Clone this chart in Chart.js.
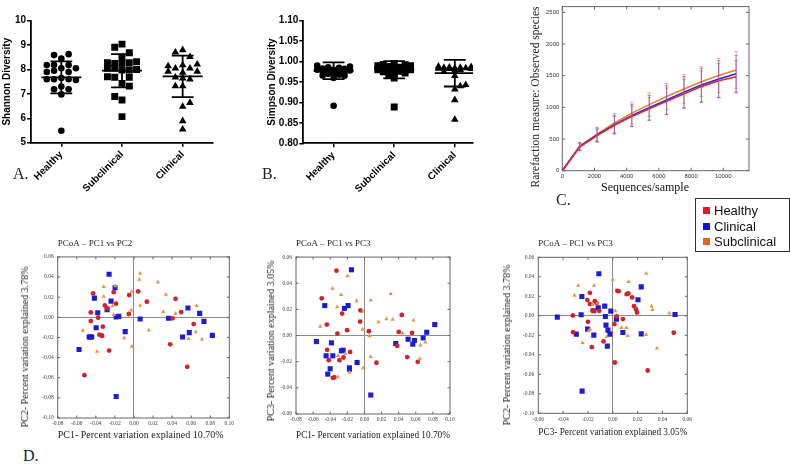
<!DOCTYPE html>
<html><head><meta charset="utf-8">
<script src="https://cdn.jsdelivr.net/npm/chart.js@4.4.1/dist/chart.umd.min.js"></script>
<style>
body{margin:0;width:790px;height:468px;background:#fff;position:relative;overflow:hidden}
canvas{position:absolute}
.lbl{position:absolute;font-family:"Liberation Serif","Times New Roman",serif;font-size:16px;color:#222;line-height:16px}
.vt{position:absolute;font-family:"Liberation Serif","Times New Roman",serif;color:#222;white-space:nowrap;transform:translate(-50%,-50%) rotate(-90deg);line-height:1}
.ht{position:absolute;font-family:"Liberation Serif","Times New Roman",serif;color:#111;white-space:nowrap;transform:translate(-50%,-50%);line-height:1}
#legend{position:absolute;left:695px;top:198px;width:95px;height:54px;border:1px solid #333;box-sizing:border-box;font-family:"Liberation Sans",Arial,sans-serif;font-size:13px;color:#111;background:#fff}
#legend .it{position:absolute;left:7px;height:15px;line-height:15px}
#legend .sw{display:inline-block;width:7px;height:7px;margin-right:4px;vertical-align:1px}
</style></head>
<body>
<canvas id="cA" width="230" height="200" style="left:0;top:0"></canvas>
<canvas id="cB" width="230" height="200" style="left:260px;top:0"></canvas>
<canvas id="cC" width="240" height="195" style="left:520px;top:0"></canvas>
<canvas id="cD1" width="240" height="204.4" style="left:0;top:237.6px"></canvas>
<canvas id="cD2" width="205" height="204.4" style="left:255px;top:237.6px"></canvas>
<canvas id="cD3" width="210" height="204" style="left:495px;top:238px"></canvas>
<div class="lbl" style="left:13px;top:166px">A.</div>
<div class="lbl" style="left:262px;top:166px">B.</div>
<div class="lbl" style="left:556px;top:192px">C.</div>
<div class="lbl" style="left:23px;top:448px">D.</div>
<div class="vt" style="left:536px;top:97px;font-size:11.5px">Rarefaction measure: Observed species</div>
<div class="ht" style="left:645px;top:187px;font-size:12px">Sequences/sample</div>
<div class="vt" style="left:25px;top:347px;font-size:10px">PC2- Percent variation explained 3.78%</div>
<div class="vt" style="left:271px;top:341px;font-size:10px">PC3- Percent variation explained 3.05%</div>
<div class="vt" style="left:507px;top:345px;font-size:10px">PC2- Percent variation explained 3.78%</div>
<div id="legend"></div>
<script>
// ---------- DATA ----------
const groups = ['Healthy', 'Subclinical', 'Clinical'];
const legendNames = ['Healthy', 'Clinical', 'Subclinical'];

// A. Shannon diversity (values + swarm column per point)
const shHealthy    = [8.59,8.63,8.45,8.18,8.18,8.18,7.90,7.95,8.05,7.90,8.05,7.60,7.60,7.65,7.60,7.57,7.19,7.30,7.19,6.98,5.49];
const shHealthyCol = [-1,1,0,-2,-1,1,-2,-1,0,1,2,-2,-1,0,1,2,-1,0,1,0,0];
const shSub        = [8.91,9.04,8.69,8.50,8.28,8.25,8.25,8.28,8.32,8.05,8.05,7.98,7.98,8.00,7.70,7.68,7.68,7.43,7.32,6.89,6.75,6.07];
const shSubCol     = [-1,0,1,0,-2,-1,0,1,2,-2,-1,0,1,2,-2,-1,1,0,1,-1,0,0];
const shClin       = [8.70,8.80,8.52,8.14,8.05,8.18,8.05,8.21,7.92,7.92,7.87,7.68,7.60,7.64,7.32,7.32,6.64,6.48,5.89,5.55];
const shClinCol    = [-1,0,1,-2,-1,0,1,2,2,-2,0,-1,1,0,-1,0,1,0,0,0];
const shMean = [7.68, 7.95, 7.72];
const shSD   = [0.655, 0.68, 0.85];
const shTicks = [5, 6, 7, 8, 9, 10];

// B. Simpson diversity
const spHealthy    = [0.990,0.988,0.986,0.985,0.983,0.982,0.980,0.980,0.978,0.977,0.975,0.975,0.973,0.972,0.970,0.968,0.966,0.965,0.960,0.892];
const spHealthyCol = [-3,3,-1,1,-2,2,0,-3,3,-1,1,-2,2,0,-1,1,-2,2,0,0];
const spSub        = [0.995,0.993,0.992,0.990,0.990,0.988,0.986,0.985,0.984,0.982,0.980,0.980,0.978,0.976,0.975,0.972,0.970,0.968,0.960,0.889];
const spSubCol     = [0,-2,2,-3,3,-1,1,-2,2,0,-3,3,-1,1,-2,2,0,-1,0,0];
const spClin       = [0.988,0.987,0.986,0.985,0.985,0.984,0.984,0.983,0.982,0.982,0.980,0.978,0.975,0.965,0.943,0.940,0.932,0.906,0.858];
const spClinCol    = [-3,3,-1,1,-2,2,0,-3,3,-1,1,0,-2,0,2,1,0,0,0];
const spMean = [0.9775, 0.980, 0.9715];
const spSD   = [0.0205, 0.021, 0.0325];
const spTicks = [0.80, 0.85, 0.90, 0.95, 1.00, 1.05, 1.10];

// C. Rarefaction
const depths      = [0,1080,2160,3240,4320,5400,6480,7560,8640,9720,10800];
const rareHealthy = [0,372,553,718,857,976,1095,1214,1327,1420,1482];
const rareClin    = [0,380,563,728,873,992,1116,1240,1353,1446,1529];
const rareSub     = [0,387,578,754,909,1043,1172,1291,1405,1503,1591];
const errHealthy  = [0,60,100,135,160,180,210,230,250,270,255];
const errClin     = [0,60,110,145,175,195,225,245,265,290,290];
const errSub      = [0,55,110,145,175,185,205,225,235,270,290];
const depthTicks  = [0,2000,4000,6000,8000,10000];
const speciesTicks= [0,500,1000,1500,2000,2500];

// D. PCoA coordinates
const pc12Healthy = [[-0.0429,0.0237],[-0.0453,0.0049],[-0.0453,-0.0037],[-0.0376,-0.0004],[-0.0306,0.0118],[-0.0278,0.0089],[-0.0212,0.025],[-0.0187,0.0135],[-0.005,0.0221],[-0.0054,0.0033],[0.0044,0.0257],[0.0135,0.0155],[0.0436,0.0184],[0.0496,0.0052],[0.0405,-0.001],[0.0626,-0.0067],[0.038,-0.0268],[0.0559,-0.0492],[-0.0327,-0.0093],[-0.0362,-0.0172],[-0.0341,-0.0179],[-0.0334,-0.0185],[-0.0261,-0.033],[-0.052,-0.0575]];
const pc12Clin = [[-0.0261,0.0428],[-0.0198,0.0293],[-0.024,0.0161],[-0.0415,0.0191],[-0.038,0.0046],[-0.0282,0.0075],[-0.0187,0.0003],[-0.0159,0.0009],[-0.0397,-0.0103],[-0.047,-0.0195],[-0.0457,-0.0195],[-0.0443,-0.0195],[-0.0576,-0.032],[-0.0092,-0.0142],[0.0065,-0.0017],[0.0363,-0.001],[0.0566,0.0092],[0.0689,0.0039],[0.0734,-0.004],[0.058,-0.0152],[0.051,-0.0195],[0.0822,-0.0179],[-0.0187,-0.0786]];
const pc12Sub = [[0.0065,0.0435],[0.0055,0.0376],[-0.0317,0.0303],[-0.0317,0.0207],[-0.0195,0.031],[-0.0026,0.0257],[0.0251,0.0349],[0.0335,0.0227],[0.0065,0.0118],[0.0436,0.0039],[0.0307,0.0056],[-0.0029,0.0069],[-0.0212,0.0026],[-0.0226,0.0112],[-0.0537,-0.0132],[-0.0387,-0.034],[-0.0103,-0.0205],[-0.0022,-0.0291],[0.0156,-0.0129],[0.0657,0.0115],[0.0647,-0.0146],[0.0573,-0.0212],[0.0713,-0.0218]];

const pc13Healthy = [[-0.0327,0.0496],[-0.0499,0.0285],[-0.0261,0.0168],[-0.0047,0.0193],[-0.0051,0.0107],[-0.044,0.0084],[-0.0203,0.0041],[-0.0316,0.0015],[0.0051,0.0033],[0.0436,0.0158],[0.0401,0.0028],[0.0557,0.002],[0.0382,-0.0079],[-0.0436,-0.0109],[-0.0168,-0.0125],[-0.0417,-0.0188],[-0.0292,-0.0188],[-0.0245,-0.0168],[0.014,-0.0208],[0.0499,-0.0165],[0.0623,-0.0201],[-0.037,-0.0323],[-0.0351,-0.032]];
const pc13Clin = [[-0.0152,0.0503],[-0.0464,0.0229],[-0.0234,0.0208],[-0.0191,0.0229],[-0.0561,-0.0046],[-0.0386,-0.0056],[-0.0448,-0.0155],[-0.037,-0.0155],[-0.0269,-0.0117],[-0.0249,-0.0112],[-0.0401,-0.0254],[-0.0429,-0.0295],[-0.0175,-0.0247],[-0.0175,-0.0257],[-0.0086,-0.0206],[0.0366,-0.0061],[0.051,-0.0028],[0.0565,-0.0066],[0.0584,-0.0038],[0.0686,-0.0018],[0.0728,0.0025],[0.0822,0.0084],[0.0074,-0.0455]];
const pc13Sub = [[-0.0199,0.0455],[-0.0374,0.0359],[-0.0273,0.0313],[-0.0319,0.0219],[-0.0093,0.0264],[0.0074,0.027],[0.0308,0.032],[-0.0019,0.0183],[0.0164,0.0104],[0.0257,0.0127],[0.033,0.0122],[-0.0518,0.0069],[-0.0023,0.0046],[0.0058,-0.0003],[0.0444,0.0018],[0.0573,0.0117],[0.0654,-0.0074],[0.0713,-0.0051],[0.0647,-0.018],[0.0074,-0.0163],[-0.0016,-0.0249],[-0.0175,-0.0282],[-0.0312,-0.0315],[-0.0308,-0.0155],[-0.0222,-0.0137]];

const pc32Healthy = [[-0.0184,0.0236],[-0.0205,0.0161],[-0.0184,0.012],[-0.0145,0.015],[-0.013,0.013],[-0.0164,0.0055],[-0.0151,0.0051],[-0.0109,0.0051],[0.0036,0.0256],[0.0047,0.0253],[0.0112,0.0222],[0.0125,0.0229],[0.0156,0.0188],[0.0171,0.0099],[0.0187,0.0065],[0.0195,0.0034],[-0.0322,0.0003],[0.0031,-0.0007],[-0.02,-0.0062],[0.0081,-0.0034],[0.0013,-0.0085],[-0.032,-0.0168],[-0.0169,-0.0321],[-0.0075,-0.0263],[0.0016,-0.0479],[0.0281,-0.0561],[0.0491,-0.0174]];
const pc32Clin = [[-0.0112,0.0431],[0.0229,0.0297],[-0.0249,0.0198],[-0.0065,0.0099],[-0.0117,0.0082],[-0.0153,0.0051],[-0.0016,0.0048],[0.0203,0.0164],[-0.0447,-0.0014],[-0.0255,0.001],[-0.006,-0.0007],[0.0029,-0.0034],[-0.0055,-0.0096],[-0.0203,-0.0137],[-0.0039,-0.0147],[-0.0023,-0.0188],[-0.0153,-0.0198],[-0.0294,-0.0188],[0.0081,-0.0171],[0.0229,-0.0185],[-0.0044,-0.0311],[0.0501,0.0014],[-0.0247,-0.0773]];
const pc32Sub = [[0.0,0.0373],[0.027,0.0434],[-0.0278,0.0311],[-0.0151,0.0311],[0.0127,0.0349],[-0.0309,0.0209],[-0.0164,0.0116],[-0.0125,0.013],[0.0312,0.0099],[0.032,0.0062],[0.0455,0.0027],[0.0021,0.0048],[0.007,-0.0123],[0.0109,-0.0123],[0.012,-0.0205],[0.0268,-0.0195],[-0.0049,-0.0215],[-0.0184,-0.014],[-0.0244,-0.0277],[0.0356,-0.0332],[-0.0195,-0.0157]];

const pc1Ticks = [-0.08,-0.06,-0.04,-0.02,0.00,0.02,0.04,0.06,0.08,0.10];
const pc2Ticks = [-0.10,-0.08,-0.06,-0.04,-0.02,0.00,0.02,0.04,0.06];
const pc3Ticks = [-0.06,-0.04,-0.02,0.00,0.02,0.04,0.06];

// ---------- STYLE ----------
const RED = '#d0242a', BLUE = '#1c1cd2', ORANGE = '#e8944a';
const LRED = '#e8262a', LBLUE = '#2222e6', LORANGE = '#e8842c';
const SANS = '"Liberation Sans", Arial, sans-serif';
const SERIF = '"Liberation Serif", "Times New Roman", serif';
Chart.defaults.font.family = SANS;
Chart.defaults.animation = false;

// legend
const legColors = {Healthy: '#e01b22', Clinical: '#1414d8', Subclinical: '#e0661e'};
const legEl = document.getElementById('legend');
legendNames.forEach((n, i) => {
  const d = document.createElement('div');
  d.className = 'it';
  d.style.top = (4 + i * 15.5) + 'px';
  d.innerHTML = '<span class="sw" style="background:' + legColors[n] + '"></span>' + n;
  legEl.appendChild(d);
});

const framePlugin = {
  id: 'frame',
  beforeDatasetsDraw(chart, args, o) {
    const {ctx, chartArea: a, scales} = chart;
    ctx.save();
    ctx.strokeStyle = o.color; ctx.lineWidth = o.width;
    ctx.strokeRect(a.left, a.top, a.right - a.left, a.bottom - a.top);
    const L = o.tick;
    ctx.beginPath();
    scales.x.ticks.forEach(t => { const p = scales.x.getPixelForValue(t.value);
      ctx.moveTo(p, a.bottom); ctx.lineTo(p, a.bottom - L); ctx.moveTo(p, a.top); ctx.lineTo(p, a.top + L); });
    scales.y.ticks.forEach(t => { const p = scales.y.getPixelForValue(t.value);
      ctx.moveTo(a.left, p); ctx.lineTo(a.left + L, p); ctx.moveTo(a.right, p); ctx.lineTo(a.right - L, p); });
    ctx.stroke();
    ctx.restore();
  }
};

function swarm(values, cols, g, step) {
  return values.map((v, i) => ({x: g + cols[i] * step, y: v}));
}
function summary(mean, sd) {
  const pts = [];
  mean.forEach((m, g) => {
    const s = sd[g];
    pts.push({x: g - 0.33, y: m}, {x: g + 0.33, y: m}, {x: g, y: null});
    pts.push({x: g, y: m - s}, {x: g, y: m + s}, {x: g, y: null});
    pts.push({x: g - 0.18, y: m + s}, {x: g + 0.18, y: m + s}, {x: g, y: null});
    pts.push({x: g - 0.18, y: m - s}, {x: g + 0.18, y: m - s}, {x: g, y: null});
  });
  return pts;
}
function fixTicks(list) { return s => { s.ticks = list.map(v => ({value: v})); }; }

function diversityChart(id, sets, mean, sd, yTicks, xMax, yTitle, titlePad, yW, xH, padRight, fmt, step) {
  const styles = [['circle', 3.3], ['rect', 4.9], ['triangle', 4.4]];
  const ds = sets.map((s, g) => ({
    data: swarm(s[0], s[1], g, step), pointStyle: styles[g][0], pointRadius: styles[g][1],
    backgroundColor: '#000', borderWidth: 0, showLine: false
  }));
  ds.push({data: summary(mean, sd), showLine: true, spanGaps: false, pointRadius: 0,
    borderColor: '#000', borderWidth: 1.8});
  new Chart(document.getElementById(id), {
    type: 'scatter',
    data: {datasets: ds},
    options: {
      responsive: false, devicePixelRatio: 1,
      layout: {padding: {top: 20.7, right: padRight, left: 0, bottom: 0}},
      plugins: {legend: {display: false}, tooltip: {enabled: false}},
      scales: {
        x: {type: 'linear', min: -0.5, max: xMax, afterBuildTicks: fixTicks([0, 1, 2]),
          afterFit: s => { s.height = xH; },
          grid: {drawOnChartArea: false, drawTicks: true, tickLength: 4, color: '#000', lineWidth: 1.5},
          border: {display: true, color: '#000', width: 1.8},
          ticks: {callback: v => groups[v], minRotation: 45, maxRotation: 45, autoSkip: false,
            padding: 2, color: '#000', font: {size: 10, weight: 'bold'}}},
        y: {min: yTicks[0], max: yTicks[yTicks.length - 1], afterBuildTicks: fixTicks(yTicks),
          afterFit: s => { s.width = yW; },
          grid: {drawOnChartArea: false, drawTicks: true, tickLength: 4, color: '#000', lineWidth: 1.5},
          border: {display: true, color: '#000', width: 1.8},
          ticks: {callback: fmt, padding: 1, color: '#000', font: {size: 10, weight: 'bold'}},
          title: {display: true, text: yTitle, color: '#000', font: {size: 10, weight: 'bold'},
            padding: {top: titlePad, bottom: 0}}}
      }
    }
  });
}

diversityChart('cA', [[shHealthy, shHealthyCol], [shSub, shSubCol], [shClin, shClinCol]],
  shMean, shSD, shTicks, 2.5, 'Shannon Diversity', 1.5, 31, 57.3, 17, v => String(v), 0.12);
diversityChart('cB', [[spHealthy, spHealthyCol], [spSub, spSubCol], [spClin, spClinCol]],
  spMean, spSD, spTicks, 2.3, 'Simpson Diversity', 6, 43.3, 56.7, 17, v => v.toFixed(2), 0.09);

// C. Rarefaction
function errSeries(vals, errs) {
  const pts = [];
  depths.forEach((d, i) => { if (errs[i] > 0) pts.push({x: d, y: vals[i] - errs[i]}, {x: d, y: vals[i] + errs[i]}, {x: d, y: null}); });
  return pts;
}
function lineSeries(vals) { return depths.map((d, i) => ({x: d, y: vals[i]})); }
new Chart(document.getElementById('cC'), {
  type: 'scatter',
  data: {datasets: [
    {data: errSeries(rareClin, errClin), showLine: true, spanGaps: false, borderColor: 'rgba(60,60,230,0.45)', borderWidth: 1, pointStyle: 'line', pointRadius: 1.8, pointBorderColor: 'rgba(60,60,230,0.5)'},
    {data: errSeries(rareHealthy, errHealthy), showLine: true, spanGaps: false, borderColor: 'rgba(230,70,70,0.55)', borderWidth: 1, pointStyle: 'line', pointRadius: 1.8, pointBorderColor: 'rgba(230,70,70,0.6)'},
    {data: errSeries(rareSub, errSub), showLine: true, spanGaps: false, borderColor: 'rgba(235,140,70,0.6)', borderWidth: 1, pointStyle: 'line', pointRadius: 1.8, pointBorderColor: 'rgba(235,140,70,0.7)'},
    {data: lineSeries(rareHealthy), showLine: true, borderColor: LRED, borderWidth: 1.6, pointRadius: 0},
    {data: lineSeries(rareClin), showLine: true, borderColor: LBLUE, borderWidth: 1.6, pointRadius: 0},
    {data: lineSeries(rareSub), showLine: true, borderColor: LORANGE, borderWidth: 1.6, pointRadius: 0}
  ]},
  plugins: [framePlugin],
  options: {
    responsive: false, devicePixelRatio: 1,
    layout: {padding: {top: 4, right: 11, left: 0, bottom: 0}},
    plugins: {legend: {display: false}, tooltip: {enabled: false}, frame: {color: '#666', width: 1, tick: 3}},
    scales: {
      x: {type: 'linear', min: 0, max: 11600, afterBuildTicks: fixTicks(depthTicks),
        afterFit: s => { s.height = 24.3; },
        grid: {display: false, drawTicks: false}, border: {display: false},
        ticks: {callback: v => String(v), maxRotation: 0, minRotation: 0, autoSkip: false, padding: 2, color: '#333', font: {size: 6}}},
      y: {min: 0, max: 2590, afterBuildTicks: fixTicks(speciesTicks),
        afterFit: s => { s.width = 42.3; },
        grid: {display: false, drawTicks: false}, border: {display: false},
        ticks: {callback: v => String(v), padding: 3, color: '#333', font: {size: 6}}}
    }
  }
});

// D. PCoA
function toXY(arr) { return arr.map(p => ({x: p[0], y: p[1]})); }
function pcoaChart(id, o) {
  const zeroLine = c => (c.tick && Math.abs(c.tick.value) < 1e-9) ? '#8c8c8c' : 'rgba(0,0,0,0)';
  new Chart(document.getElementById(id), {
    type: 'scatter',
    data: {datasets: [
      {data: toXY(o.sub), pointStyle: 'triangle', pointRadius: 2.5, backgroundColor: ORANGE, borderWidth: 0},
      {data: toXY(o.healthy), pointStyle: 'circle', pointRadius: 2.4, backgroundColor: RED, borderWidth: 0},
      {data: toXY(o.clin), pointStyle: 'rect', pointRadius: 3.6, backgroundColor: BLUE, borderWidth: 0}
    ]},
    plugins: [framePlugin],
    options: {
      responsive: false, devicePixelRatio: 1,
      layout: {padding: {top: 0, right: o.padRight, left: 0, bottom: 0}},
      plugins: {legend: {display: false}, tooltip: {enabled: false},
        frame: {color: '#666', width: 1, tick: 2.5},
        title: {display: true, text: o.title, align: 'start', fullSize: false, color: '#222',
          font: {family: SERIF, size: 9, weight: 'normal'}, padding: {top: 0, bottom: o.titleGap}}},
      scales: {
        x: {type: 'linear', min: o.xTicks[0], max: o.xTicks[o.xTicks.length - 1], afterBuildTicks: fixTicks(o.xTicks),
          afterFit: s => { s.height = o.xH; },
          grid: {drawTicks: false, color: zeroLine, lineWidth: 1},
          border: {display: false},
          ticks: {callback: v => v.toFixed(2), maxRotation: 0, minRotation: 0, autoSkip: false, padding: 2.5, color: '#444', font: {family: SERIF, size: 5.5}},
          title: {display: true, text: o.xTitle, align: o.xAlign, color: '#222', font: {family: SERIF, size: 10}, padding: {top: 0, bottom: o.xTitlePad}}},
        y: {min: o.yTicks[0], max: o.yTicks[o.yTicks.length - 1], afterBuildTicks: fixTicks(o.yTicks),
          afterFit: s => { s.width = o.yW; },
          grid: {drawTicks: false, color: zeroLine, lineWidth: 1},
          border: {display: false},
          ticks: {callback: v => v.toFixed(2), autoSkip: false, padding: 4, color: '#444', font: {family: SERIF, size: 5.5}}}
      }
    }
  });
}
pcoaChart('cD1', {healthy: pc12Healthy, clin: pc12Clin, sub: pc12Sub, xTicks: pc1Ticks, yTicks: pc2Ticks,
  title: 'PCoA \u2013 PC1 vs PC2', xTitle: 'PC1- Percent variation explained 10.70%', xAlign: 'start',
  padRight: 10.7, titleGap: 8.1, xH: 24, xTitlePad: 1, yW: 57.7});
pcoaChart('cD2', {healthy: pc13Healthy, clin: pc13Clin, sub: pc13Sub, xTicks: pc1Ticks, yTicks: pc3Ticks,
  title: 'PCoA \u2013 PC1 vs PC3', xTitle: 'PC1- Percent variation explained 10.70%', xAlign: 'center',
  padRight: 10, titleGap: 8.3, xH: 28, xTitlePad: 1, yW: 41});
pcoaChart('cD3', {healthy: pc32Healthy, clin: pc32Clin, sub: pc32Sub, xTicks: pc3Ticks, yTicks: pc2Ticks,
  title: 'PCoA \u2013 PC1 vs PC3', xTitle: 'PC3- Percent variation explained 3.05%', xAlign: 'center',
  padRight: 17.7, titleGap: 8.5, xH: 28.7, xTitlePad: 3.3, yW: 43.3});
</script>
</body></html>
